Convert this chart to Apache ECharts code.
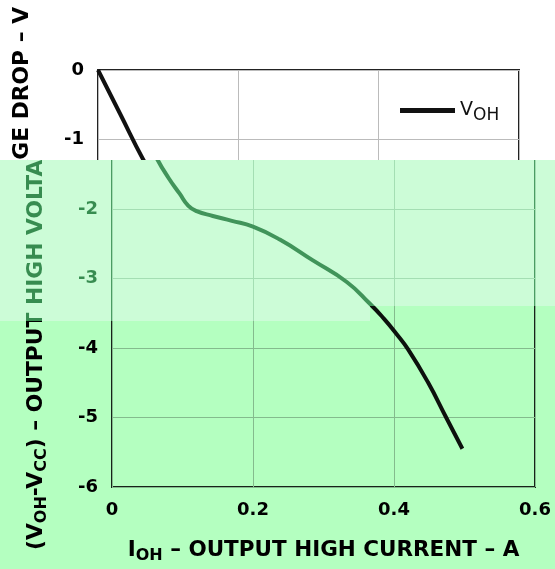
<!DOCTYPE html>
<html><head><meta charset="utf-8">
<script src="https://cdn.jsdelivr.net/npm/echarts@6/dist/echarts.min.js"></script>
<style>
html,body{margin:0;padding:0;background:#fff;}
#chartA{position:absolute;left:0;top:0;width:555px;height:569px;}
#wrapB{position:absolute;left:0;top:160px;width:555px;height:409px;overflow:hidden;}
#chartB{position:absolute;left:0;top:-160px;width:555px;height:569px;}
</style></head><body>
<div id="chartA"></div>
<div id="wrapB"><div id="chartB"></div></div>
<script>
// Output high current (A)
const outputCurrent = [0, 0.032, 0.064, 0.08, 0.096, 0.108, 0.12, 0.143, 0.17, 0.2, 0.238, 0.285, 0.333, 0.3655, 0.385, 0.403, 0.42, 0.448, 0.474, 0.497];
// (VOH - VCC) voltage drop (V)
const voltageDrop = [0, -0.64, -1.28, -1.55, -1.78, -1.95, -2.03, -2.10, -2.17, -2.255, -2.44, -2.74, -3.05, -3.36, -3.57, -3.79, -4.02, -4.49, -5.0, -5.45];
const xTickLabels = ['0', '0.2', '0.4', '0.6'];
const yTickLabels = ['0', '-1', '-2', '-3', '-4', '-5', '-6'];
const seriesName = 'VOH';

const FONT = 'DejaVu Sans';

function makeOption(gridLeft, gridWidth, graphic) {
  const pts = outputCurrent.map((x, i) => [x, voltageDrop[i]]);
  return {
    backgroundColor: '#ffffff',
    animation: false,
    grid: {left: gridLeft, top: 70, width: gridWidth, height: 423, show: true,
      borderColor: '#222', borderWidth: 2, backgroundColor: 'transparent'},
    legend: {
      show: true, left: 395, top: 96, icon: 'rect', itemWidth: 55, itemHeight: 5,
      itemStyle: {color: '#111'},
      data: [seriesName],
      formatter: () => '{v|V}{s|OH}',
      textStyle: {
        rich: {
          v: {fontFamily: FONT, fontSize: 19, color: '#111'},
          s: {fontFamily: FONT, fontSize: 17, color: '#111', padding: [11, 0, 0, 0]}
        }
      }
    },
    xAxis: {
      type: 'value', min: 0, max: 0.6, interval: 0.2,
      axisLine: {show: false}, axisTick: {show: false},
      splitLine: {show: true, lineStyle: {color: '#bbbbbb', width: 1}},
      axisLabel: {margin: 14, fontFamily: FONT, fontSize: 18, fontWeight: 'bold', color: '#000',
        formatter: v => xTickLabels[Math.round(v / 0.2)]},
      name: '{m|I}{s|OH}{m| – OUTPUT HIGH CURRENT – A}',
      nameLocation: 'middle', nameGap: 50,
      nameTextStyle: {
        rich: {
          m: {fontFamily: FONT, fontSize: 21.5, fontWeight: 'bold', color: '#000'},
          s: {fontFamily: FONT, fontSize: 16, fontWeight: 'bold', color: '#000', padding: [11, 0, 0, 0]}
        }
      }
    },
    yAxis: {
      type: 'value', min: -6, max: 0, interval: 1,
      axisLine: {show: false}, axisTick: {show: false},
      splitLine: {show: true, lineStyle: {color: '#bbbbbb', width: 1}},
      axisLabel: {margin: 14, fontFamily: FONT, fontSize: 18, fontWeight: 'bold', color: '#000',
        formatter: v => yTickLabels[Math.round(-v)]},
      name: '{m|(V}{s|OH}{m|-V}{s|CC}{m|) – OUTPUT HIGH VOLTAGE DROP – V}',
      nameLocation: 'middle', nameRotate: 90, nameGap: 62,
      nameTextStyle: {
        rich: {
          m: {fontFamily: FONT, fontSize: 21.8, fontWeight: 'bold', color: '#000'},
          s: {fontFamily: FONT, fontSize: 16, fontWeight: 'bold', color: '#000', padding: [11, 0, 0, 0]}
        }
      }
    },
    series: [{
      name: seriesName, type: 'line', data: pts, symbol: 'none', smooth: 0.5,
      lineStyle: {color: '#111', width: 4}, itemStyle: {color: '#111'}
    }],
    graphic: graphic
  };
}

const band = [[0, 160], [555, 160], [555, 306], [370, 306], [370, 321], [0, 321]];
const lower = [[0, 321], [370, 321], [370, 306], [555, 306], [555, 569], [0, 569]];
const overlays = [
  {type: 'polygon', silent: true, z: 100, shape: {points: lower}, style: {fill: 'rgb(180,255,192)', blend: 'multiply'}},
  {type: 'polygon', silent: true, z: 100, shape: {points: band}, style: {fill: 'rgb(190,248,197)', blend: 'multiply'}},
  {type: 'polygon', silent: true, z: 101, shape: {points: band}, style: {fill: 'rgb(55,140,80)', blend: 'screen'}}
];

const chartA = echarts.init(document.getElementById('chartA'), null, {renderer: 'canvas'});
chartA.setOption(makeOption(98, 421, []));
const chartB = echarts.init(document.getElementById('chartB'), null, {renderer: 'canvas'});
chartB.setOption(makeOption(112, 423, overlays));
</script>
</body></html>
